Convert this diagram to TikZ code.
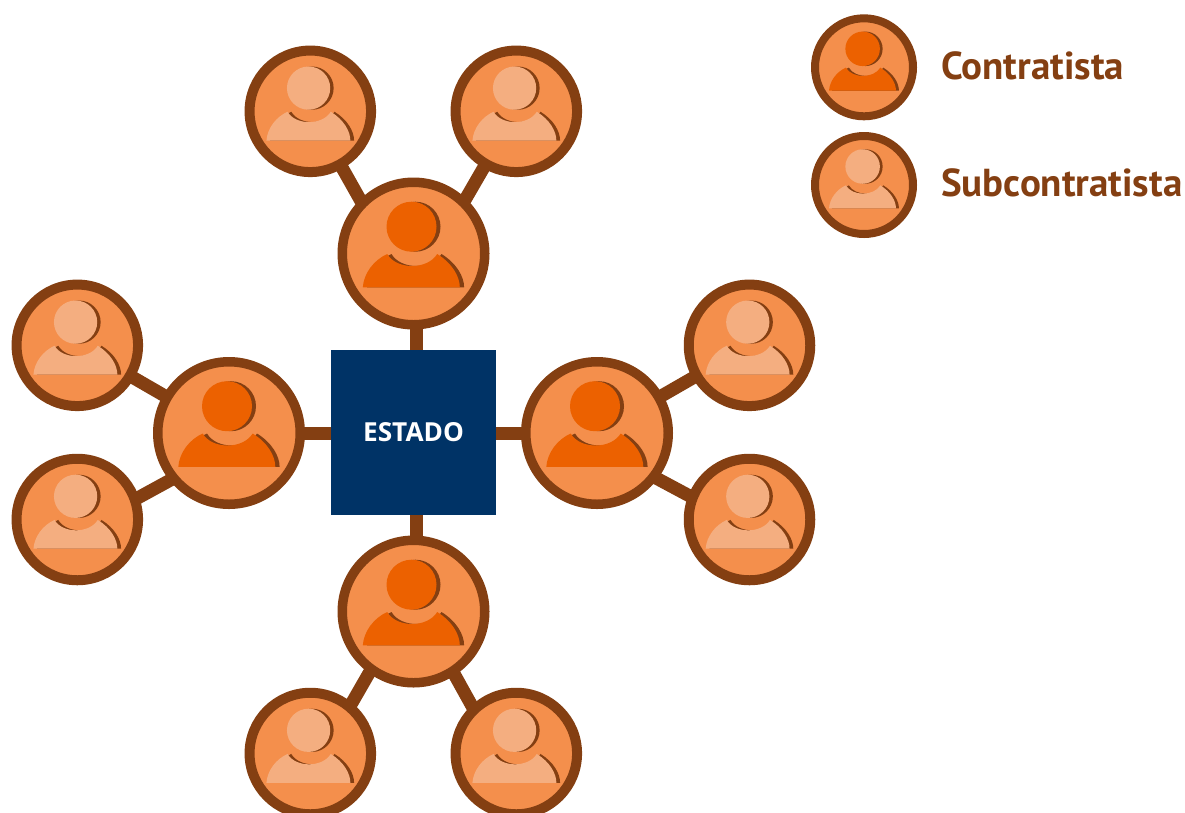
\documentclass[tikz,border=0pt]{standalone}
\usepackage{fontspec}
\setmainfont{PT Sans}
\newfontfamily\boxfont{Open Sans}
\usetikzlibrary{backgrounds}
\definecolor{ringbrown}{HTML}{843F12}
\definecolor{discfill}{HTML}{F48F4C}
\definecolor{strong}{HTML}{EC6100}
\definecolor{pale}{HTML}{F4AE80}
\definecolor{navy}{HTML}{003366}
\tikzset{
  x=1pt,y=-1pt,
  bigdisc/.style={circle,draw=ringbrown,fill=discfill,line width=9.5pt,inner sep=0pt,minimum size=142.5pt},
  smalldisc/.style={circle,draw=ringbrown,fill=discfill,line width=10pt,inner sep=0pt,minimum size=121.5pt},
  keydisc/.style={circle,draw=ringbrown,fill=discfill,line width=8pt,inner sep=0pt,minimum size=98pt},
  statebox/.style={rectangle,fill=navy,text=white,inner sep=0pt,minimum size=165pt,font=\boxfont\bfseries\fontsize{26.2}{26.2}\selectfont},
  keylabel/.style={anchor=base west,inner sep=0pt,text=ringbrown,font=\bfseries\fontsize{39}{39}\selectfont},
  link/.style={draw=ringbrown,line width=13pt}
}
\newcommand{\bodyshape}{(-50.7,33.8) .. controls (-49.7,19.8) and (-39.7,6.5) .. (-26.3,0.5) .. controls (-17,16.5) and (14,16.5) .. (23.7,0.5) .. controls (38.7,9.8) and (46.3,23) .. (46.3,33.8) -- cycle}
\newcommand{\persona}[3]{%
  \begin{scope}[shift={(#1.center)},scale=#2]
    \fill[ringbrown,xshift=4.3pt] \bodyshape;
    \fill[ringbrown] (2,-26.8) circle[radius=25];
    \fill[#3] \bodyshape;
    \fill[#3] (-2,-26.8) circle[radius=25];
  \end{scope}}
\begin{document}
\begin{tikzpicture}
\useasboundingbox (0,0) rectangle (1185,812);
\node[statebox] (st) at (413.5,432.5) {ESTADO};
\node[bigdisc] (ct) at (413.5,253.5) {};
\node[bigdisc] (cl) at (229,433) {};
\node[bigdisc] (cr) at (597,433) {};
\node[bigdisc] (cb) at (413.5,611.5) {};
\node[smalldisc] (t1) at (310.3,111.3) {};
\node[smalldisc] (t2) at (516.3,111.3) {};
\node[smalldisc] (l1) at (77.3,345.3) {};
\node[smalldisc] (l2) at (77.3,519.5) {};
\node[smalldisc] (r1) at (749.5,345.3) {};
\node[smalldisc] (r2) at (749.5,519.5) {};
\node[smalldisc] (b1) at (310.3,753.5) {};
\node[smalldisc] (b2) at (516.3,753.5) {};
\node[keydisc] (k1) at (864,67.3) {};
\node[keydisc] (k2) at (864,185) {};
\node[keylabel] (kt1) at (941,79) {Contratista};
\node[keylabel] (kt2) at (941,196.7) {Subcontratista};
% attachment points of the connectors that do not aim at a disc centre
\path (ct.center) ++(2.5,0) coordinate (ctv);
\path (cb.center) ++(2.5,0) coordinate (cbv);
\path (cl.center) ++(0,.7) coordinate (clh);
\path (cr.center) ++(0,.7) coordinate (crh);
\path (ct.center) ++(-23,0) coordinate (cta);
\path (ct.center) ++(20.5,0) coordinate (ctb);
\path (cl.center) ++(0,15) coordinate (clb);
\path (l2.center) ++(0,11.5) coordinate (l2b);
\path (cr.center) ++(0,13.4) coordinate (crb);
\path (r2.center) ++(0,8.5) coordinate (r2b);
\path (cb.center) ++(-9,0) coordinate (cba);
\path (b1.center) ++(12.5,0) coordinate (b1a);
\path (cb.center) ++(6,0) coordinate (cbb);
\path (b2.center) ++(-18,0) coordinate (b2b);
\begin{pgfonlayer}{background}
  \draw[link] (ctv) -- (ctv |- st.center);
  \draw[link] (clh) -- (clh -| st.center);
  \draw[link] (crh) -- (crh -| st.center);
  \draw[link] (cbv) -- (cbv |- st.center);
  \draw[link] (cta) -- (t1.center);
  \draw[link] (ctb) -- (t2.center);
  \draw[link] (cl.center) -- (l1.center);
  \draw[link] (clb) -- (l2b);
  \draw[link] (cr.center) -- (r1.center);
  \draw[link] (crb) -- (r2b);
  \draw[link] (cba) -- (b1a);
  \draw[link] (cbb) -- (b2b);
\end{pgfonlayer}
\persona{ct}{1}{strong}
\persona{cl}{1}{strong}
\persona{cr}{1}{strong}
\persona{cb}{1}{strong}
\persona{t1}{.865}{pale}
\persona{t2}{.865}{pale}
\persona{l1}{.865}{pale}
\persona{l2}{.865}{pale}
\persona{r1}{.865}{pale}
\persona{r2}{.865}{pale}
\persona{b1}{.865}{pale}
\persona{b2}{.865}{pale}
\persona{k1}{.69}{strong}
\persona{k2}{.69}{pale}
\end{tikzpicture}
\end{document}
